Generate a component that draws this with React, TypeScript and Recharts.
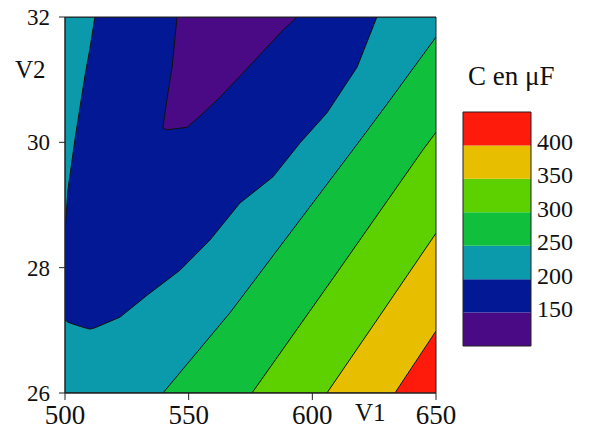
import { ComposedChart, Area, XAxis, YAxis, ReferenceArea, Customized } from "recharts";

// axes
const xTicks = [500, 550, 600, 650];
const yTicks = [26, 28, 30, 32];

// colour scale (C en µF)
const levelBounds = [100, 150, 200, 250, 300, 350, 400, 450];
const levelTicks = [150, 200, 250, 300, 350, 400];
const levelColors = ["#4A0A86", "#021894", "#0B9AAB", "#10C03C", "#5DD000", "#E8BE00", "#FE1B0C"];

// filled regions C < level (x = V1, low/high = V2)
const fullX = [500, 650];
const fullLow = [26, 26];

const c400X = [500, 633.4, 650];
const c400Low = [26, 26, 26.99];

const c350X = [500, 605.9, 627.4, 650];
const c350Low = [26, 26, 27.24, 28.55];

const c300X = [500, 575.6, 609.6, 644.7, 650];
const c300Low = [26, 26, 27.9, 29.88, 30.16];

const c250X = [500, 539.6, 566.7, 616.4, 630.2, 650];
const c250Low = [26, 26, 27.28, 29.88, 30.61, 31.68];

const c200X = [500, 501.2, 504, 508.1, 510.1, 512.1, 522.2, 533.2, 546.5, 558.6, 570.7, 584.1, 595, 605.9, 618.1, 626.1];
const c200Low = [27.17, 27.13, 27.09, 27.04, 27.02, 27.04, 27.21, 27.56, 27.96, 28.44, 29.03, 29.45, 29.99, 30.47, 31.2, 32];
const c200High = [28.6, 29.24, 30.04, 31.07, 31.5, 32, 32, 32, 32, 32, 32, 32, 32, 32, 32, 32];

const c150X = [539.6, 541.2, 543.3, 545.3, 549.3, 554.6, 562.7, 572, 581.7, 588.1, 593.8];
const c150Low = [30.23, 30.2, 30.21, 30.22, 30.24, 30.42, 30.72, 31.11, 31.52, 31.79, 32];
const c150High = [30.23, 30.68, 31.2, 32, 32, 32, 32, 32, 32, 32, 32];

const band = (xs: number[], lows: number[], highs?: number[]) =>
  xs.map((x, i) => ({ x, r: [lows[i], highs ? highs[i] : 32] }));

const layers = [
  { data: band(fullX, fullLow), color: levelColors[6], stroke: "none" },
  { data: band(c400X, c400Low), color: levelColors[5], stroke: "#111" },
  { data: band(c350X, c350Low), color: levelColors[4], stroke: "#111" },
  { data: band(c300X, c300Low), color: levelColors[3], stroke: "#111" },
  { data: band(c250X, c250Low), color: levelColors[2], stroke: "#111" },
  { data: band(c200X, c200Low, c200High), color: levelColors[1], stroke: "#111" },
  { data: band(c150X, c150Low, c150High), color: levelColors[0], stroke: "#111" },
];

const scaleData = levelColors.map((c, i) => [
  { x: 0, r: [levelBounds[i], levelBounds[i + 1]] },
  { x: 1, r: [levelBounds[i], levelBounds[i + 1]] },
]);

const FONT = "Liberation Serif";

const AxisTitles = () => (
  <g fill="#111" fontFamily={FONT}>
    <text x={15} y={78} fontSize={25}>V2</text>
    <text x={355} y={421} fontSize={25}>V1</text>
  </g>
);

const ScaleTitle = () => (
  <text x={20} y={85} fontSize={27} fill="#111" fontFamily={FONT}>C en μF</text>
);

const XTick = ({ x, y, payload }: any) => (
  <text x={x} y={y} dy="0.71em" fontSize={27} fill="#111" fontFamily={FONT} textAnchor="middle">
    {payload.value}
  </text>
);

const YTick = ({ x, y, payload }: any) => (
  <text x={x} y={y} dy="0.355em" fontSize={23} fill="#111" fontFamily={FONT} textAnchor="end">
    {payload.value}
  </text>
);

// colour bar labels sit a little above their boundary
const ScaleTick = ({ x, y, payload }: any) => (
  <text x={x} y={y - 4} dy="0.355em" fontSize={24} fill="#111" fontFamily={FONT} textAnchor="start">
    {payload.value}
  </text>
);

export default function App() {
  return (
    <div style={{ position: "relative", width: 589, height: 429, margin: "-8px 0 0 -8px", overflow: "hidden" }}>
      <div style={{ position: "absolute", left: 0, top: 0 }}>
        <ComposedChart width={460} height={429} margin={{ top: 17, right: 24, bottom: 0, left: 0 }}>
          <XAxis
            type="number"
            dataKey="x"
            domain={[500, 650]}
            ticks={xTicks}
            allowDataOverflow
            height={36}
            tickSize={7}
            tickMargin={5}
            stroke="#222"
            tick={XTick}
          />
          <YAxis
            type="number"
            domain={[26, 32]}
            ticks={yTicks}
            allowDataOverflow
            width={65}
            tickSize={6}
            tickMargin={9}
            stroke="#222"
            tick={YTick}
          />
          {layers.map((l, i) => (
            <Area
              key={i}
              data={l.data}
              dataKey="r"
              type="linear"
              fill={l.color}
              fillOpacity={1}
              stroke={l.stroke}
              strokeWidth={1}
              isAnimationActive={false}
              activeDot={false}
            />
          ))}
          <ReferenceArea x1={500} x2={650} y1={26} y2={32} fill="none" stroke="#222" strokeWidth={1} />
          <Customized component={AxisTitles} />
        </ComposedChart>
      </div>
      <div style={{ position: "absolute", left: 448, top: 0 }}>
        <ComposedChart width={141} height={429} margin={{ top: 112, right: 0, bottom: 83, left: 15 }}>
          <XAxis type="number" dataKey="x" domain={[0, 1]} hide />
          <YAxis
            orientation="right"
            type="number"
            domain={[100, 450]}
            ticks={levelTicks}
            width={58}
            axisLine={false}
            tickLine={false}
            tickSize={0}
            tickMargin={6}
            tick={ScaleTick}
          />
          {scaleData.map((d, i) => (
            <Area
              key={i}
              data={d}
              dataKey="r"
              type="linear"
              fill={levelColors[i]}
              fillOpacity={1}
              stroke="none"
              isAnimationActive={false}
              activeDot={false}
            />
          ))}
          <ReferenceArea x1={0} x2={1} y1={100} y2={450} fill="none" stroke="#222" strokeWidth={1} />
          <Customized component={ScaleTitle} />
        </ComposedChart>
      </div>
    </div>
  );
}
